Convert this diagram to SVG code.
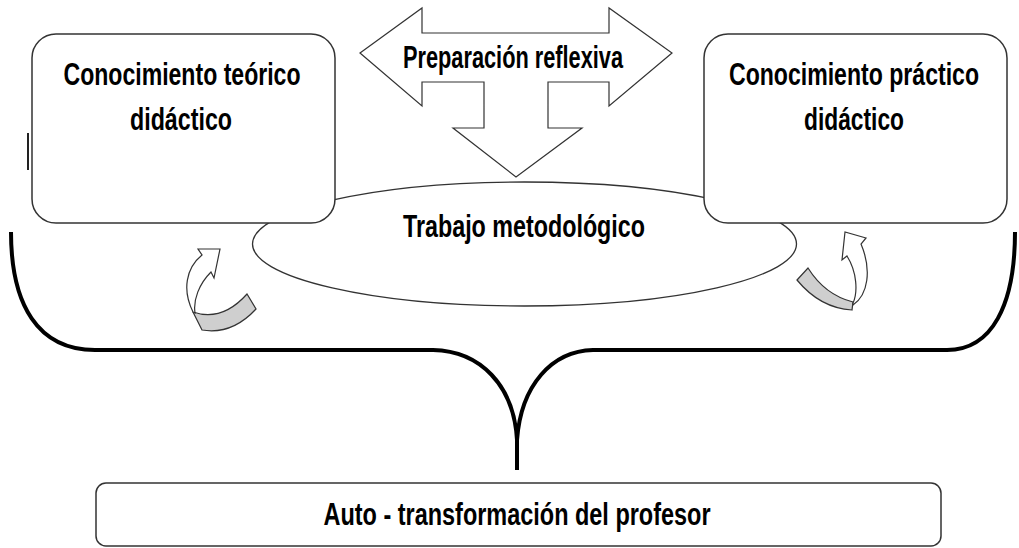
<svg xmlns="http://www.w3.org/2000/svg" width="1019" height="548" viewBox="0 0 1019 548">
<style>
.box{fill:#fff;stroke:#333;stroke-width:1.5}
.t{font-family:"Liberation Sans",Arial,sans-serif;font-weight:bold;font-size:25px;fill:#000;text-anchor:middle}
.thin{fill:#fff;stroke:#333;stroke-width:1.2}
.band{fill:#cfcfcf;stroke:#333;stroke-width:1.2}
.brace{fill:none;stroke:#000;stroke-width:4}
</style>
<rect width="1019" height="548" fill="#fff"/>
<g id="connectors">
<path class="brace" d="M11,232 C11,305 38,350 95,350 L433,350 C480,351 514,385 517,440 L517,470 M517,440 C521,385 552,351 593,350 L947,350 C992,350 1015,305 1015,232"/>
</g>
<g id="trabajo">
<ellipse cx="524.5" cy="244" rx="272" ry="62" fill="#fff" stroke="#333" stroke-width="1.3"/>
<text class="t" transform="translate(524,237) scale(1,1.22)" textLength="242" lengthAdjust="spacingAndGlyphs">Trabajo metodológico</text>
</g>
<g id="teorico">
<rect class="box" x="32" y="34" width="303" height="189" rx="24"/>
<line x1="28" y1="133" x2="28" y2="170" stroke="#222" stroke-width="2"/>
<text class="t" transform="translate(182,85) scale(1,1.22)" textLength="237" lengthAdjust="spacingAndGlyphs">Conocimiento teórico</text>
<text class="t" transform="translate(181,130) scale(1,1.22)" textLength="102" lengthAdjust="spacingAndGlyphs">didáctico</text>
</g>
<g id="practico">
<rect class="box" x="704" y="34" width="303" height="189" rx="24"/>
<text class="t" transform="translate(854,85) scale(1,1.22)" textLength="250" lengthAdjust="spacingAndGlyphs">Conocimiento práctico</text>
<text class="t" transform="translate(854,130) scale(1,1.22)" textLength="100" lengthAdjust="spacingAndGlyphs">didáctico</text>
</g>
<g id="preparacion">
<path class="thin" d="M360,53 L422,8 L422,33 L609,33 L609,8 L672,53 L609,106 L609,82 L548,82 L548,128 L582,128 L516,177 L453,128 L484,128 L484,82 L422,82 L422,106 Z"/>
<text class="t" transform="translate(513,68) scale(1,1.22)" textLength="220" lengthAdjust="spacingAndGlyphs">Preparación reflexiva</text>
</g>
<g id="ciclo-izq">
<path class="band" d="M193,312 Q222,322 247,294 L256,309 Q232,335 202,330 Z"/>
<path class="thin" d="M193,312 C182,290 186,268 202,255 L198,249 L220,249 L214,278 L211,272 C199,284 193,300 195,313 Z"/>
</g>
<g id="ciclo-der">
<path class="band" d="M797,280 L808,268 Q825,295 853,302 L852,310 Q820,308 797,280 Z"/>
<path class="thin" d="M853,305 C868,295 872,270 861,244 L866,238 L845,232 L842,260 L847,256 C857,272 858,292 853,303 Z"/>
</g>
<g id="auto">
<rect class="box" x="96" y="483" width="845" height="63" rx="10"/>
<text class="t" transform="translate(517,525) scale(1,1.22)" textLength="387" lengthAdjust="spacingAndGlyphs">Auto - transformación del profesor</text>
</g>
</svg>
